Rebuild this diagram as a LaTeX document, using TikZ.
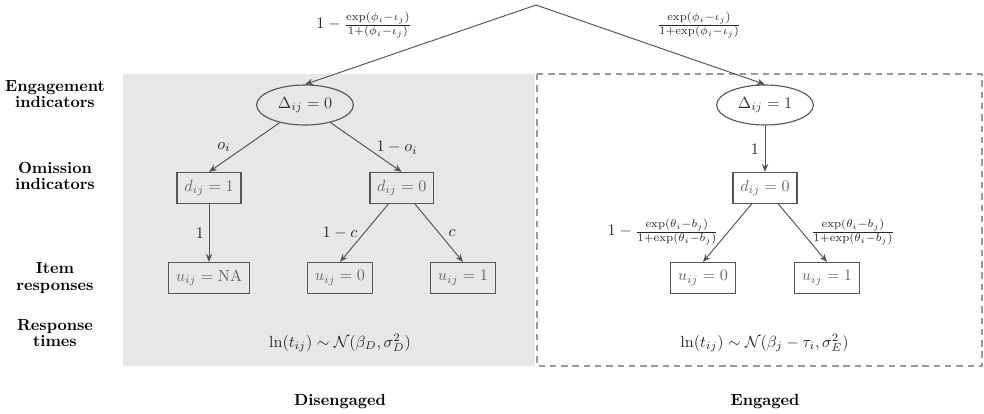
\documentclass[tikz,border=0pt]{standalone}
\usetikzlibrary{shapes.geometric,arrows.meta}
\definecolor{panelgray}{HTML}{E6E7E9}
\definecolor{boxline}{HTML}{555555}
\definecolor{boxtext}{HTML}{666666}
\definecolor{edgeline}{HTML}{555555}
\definecolor{dashline}{HTML}{9A9A9A}
\begin{document}
\begin{tikzpicture}[x=0.62pt,y=-0.62pt,
  statebox/.style={draw=boxline,line width=0.9pt,rectangle,inner xsep=4.5pt,minimum height=19pt,text=boxtext},
  stateell/.style={draw=boxline,line width=0.7pt,ellipse,minimum width=60pt,minimum height=24.8pt,inner sep=0pt,text=black!80},
  conn/.style={draw=edgeline,line width=0.6pt,-{Stealth[length=5pt,width=4pt]}},
  rowlab/.style={font=\bfseries,align=center},
  elab/.style={text=black!85,inner sep=1pt}]
\useasboundingbox (0,0) rectangle (984,414);
% panels
\fill[panelgray] (123,74) rectangle (535,366);
\draw[dashline,line width=0.8pt,dash pattern=on 4pt off 3pt] (537,74) rectangle (982,366);
% row labels
\node[rowlab] (rl1) at (55,94) {Engagement\\[-2pt]indicators};
\node[rowlab] (rl2) at (55,176) {Omission\\[-2pt]indicators};
\node[rowlab] (rl3) at (55,278) {Item\\[-2pt]responses};
\node[rowlab] (rl4) at (55,333) {Response\\[-2pt]times};
% top
\coordinate (apex) at (536,5);
\node[stateell] (D0) at (305,105) {$\Delta_{ij}=0$};
\node[stateell] (D1) at (765,105) {$\Delta_{ij}=1$};
% left tree
\node[statebox] (d1) at (209,188) {$d_{ij}=1$};
\node[statebox] (d0L) at (401.7,188) {$d_{ij}=0$};
\node[statebox] (uNA) at (209,278) {$u_{ij}=\mathrm{NA}$};
\node[statebox] (u0L) at (340,278) {$u_{ij}=0$};
\node[statebox] (u1L) at (463,278) {$u_{ij}=1$};
% right tree
\node[statebox] (d0R) at (765,188) {$d_{ij}=0$};
\node[statebox] (u0R) at (703,278) {$u_{ij}=0$};
\node[statebox] (u1R) at (827,278) {$u_{ij}=1$};
% connectors
\draw[conn] (apex) -- (D0.north);
\draw[conn] (apex) -- (D1.north);
\draw[conn] (D0) -- (d1.north);
\draw[conn] (D0) -- (d0L.north);
\draw[conn] (d1) -- (uNA);
\draw[conn] (d0L) -- (u0L.north);
\draw[conn] (d0L) -- (u1L.north);
\draw[conn] (D1) -- (d0R);
\draw[conn] (d0R) -- (u0R.north);
\draw[conn] (d0R) -- (u1R.north);
% edge labels
\node[elab] (l1) at (364,25) {$1-\frac{\exp(\phi_i-\iota_j)}{1+(\phi_i-\iota_j)}$};
\node[elab] (l2) at (699,25) {$\frac{\exp(\phi_i-\iota_j)}{1+\exp(\phi_i-\iota_j)}$};
\node[elab] (l3) at (224,147) {$o_i$};
\node[elab] (l4) at (397,148) {$1-o_i$};
\node[elab] (l5) at (200,233) {$1$};
\node[elab] (l6) at (340,233) {$1-c$};
\node[elab] (l7) at (452,233) {$c$};
\node[elab] (l8) at (755,149) {$1$};
\node[elab] (l9) at (663,232) {$1-\frac{\exp(\theta_i-b_j)}{1+\exp(\theta_i-b_j)}$};
\node[elab] (l10) at (853,232) {$\frac{\exp(\theta_i-b_j)}{1+\exp(\theta_i-b_j)}$};
% response times
\node[elab] (rtL) at (340,343) {$\ln(t_{ij})\sim\mathcal{N}(\beta_D,\sigma^2_D)$};
\node[elab] (rtR) at (764.5,343) {$\ln(t_{ij})\sim\mathcal{N}(\beta_j-\tau_i,\sigma^2_E)$};
% panel titles
\node[font=\bfseries] (tDis) at (340,402) {Disengaged};
\node[font=\bfseries] (tEng) at (765,402) {Engaged};
\end{tikzpicture}
\end{document}
